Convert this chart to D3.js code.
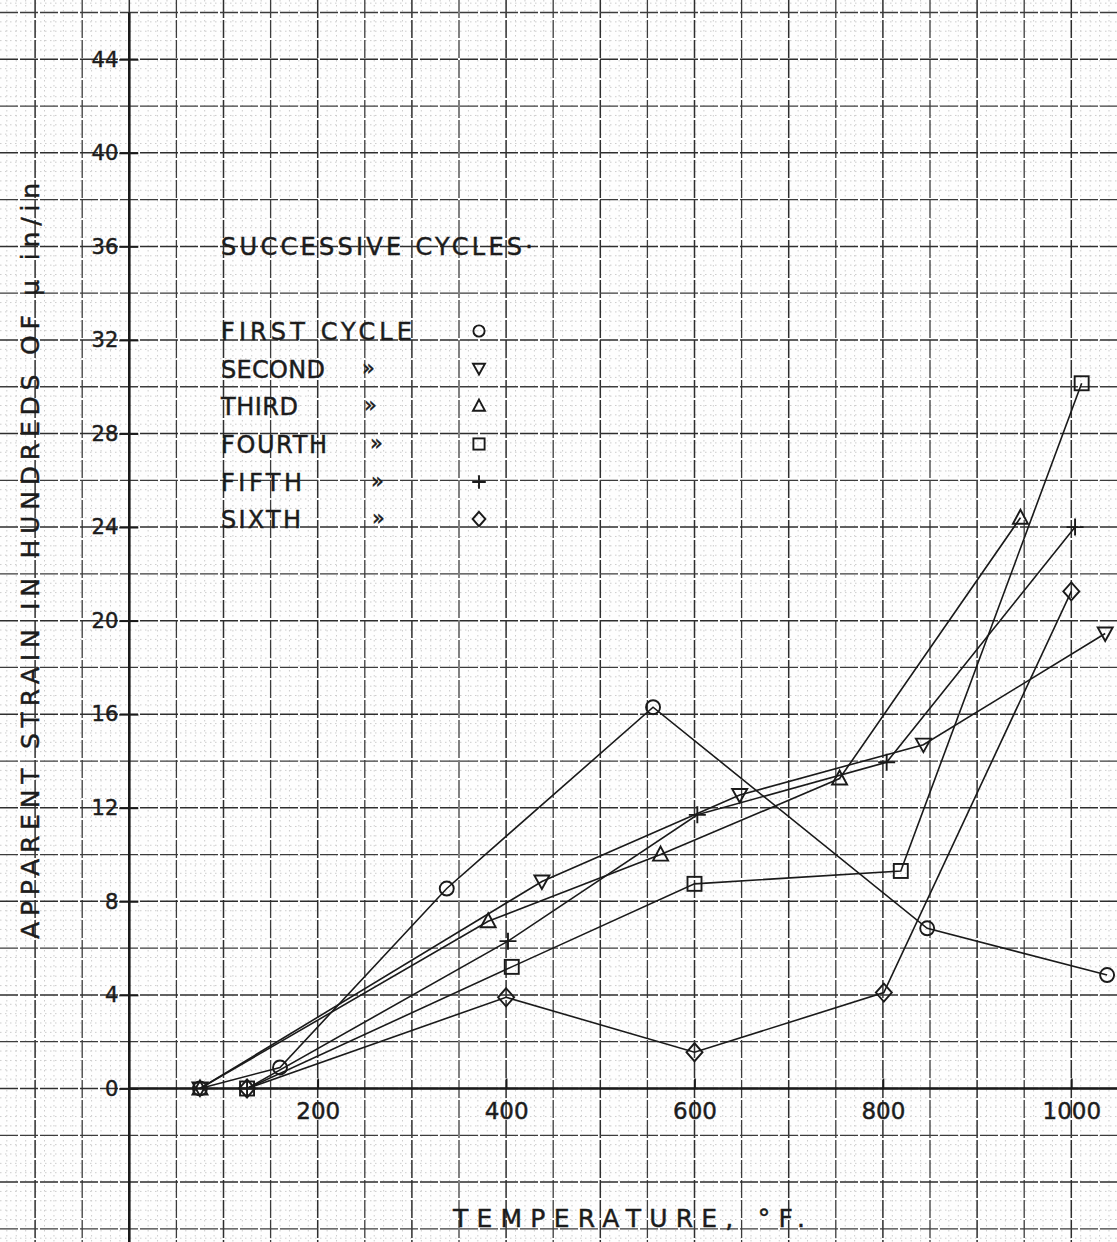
<!DOCTYPE html>
<html>
<head>
<meta charset="utf-8">
<script src="https://cdn.jsdelivr.net/npm/d3@7"></script>
<style>
  html, body { margin: 0; padding: 0; background: #fff; }
  svg { display: block; }
  text { font-family: "DejaVu Sans", sans-serif; fill: #1c1c1c; stroke: #1c1c1c; stroke-width: 0.45px; }
</style>
</head>
<body>
<svg id="chart" width="1117" height="1242"></svg>
<script>
// ---- Data: apparent strain (hundreds of micro-in/in) vs temperature (°F) ----
const cycleNames = ["FIRST CYCLE", "SECOND", "THIRD", "FOURTH", "FIFTH", "SIXTH"];
const cycleSymbols = ["circle", "triangleDown", "triangleUp", "square", "plus", "diamond"];

const tempFirst   = [75, 160, 337, 556, 847, 1038];
const strainFirst = [0, 0.9, 8.55, 16.3, 6.85, 4.85];

const tempSecond   = [75, 438, 648, 843, 1036];
const strainSecond = [0, 8.85, 12.55, 14.7, 19.45];

const tempThird   = [75, 381, 564, 754, 946];
const strainThird = [0, 7.15, 10.0, 13.25, 24.4];

const tempFourth   = [125, 406, 600, 819, 1011];
const strainFourth = [0, 5.2, 8.75, 9.3, 30.15];

const tempFifth   = [125, 402, 603, 804, 1004];
const strainFifth = [0, 6.3, 11.7, 13.95, 24.0];

const tempSixth   = [125, 400, 600, 801, 1000];
const strainSixth = [0, 3.9, 1.55, 4.1, 21.25];

const xTickValues = [200, 400, 600, 800, 1000];
const yTickValues = [0, 4, 8, 12, 16, 20, 24, 28, 32, 36, 40, 44];

const xTitle = "TEMPERATURE, \u00B0F.";
const yTitle = "APPARENT STRAIN IN HUNDREDS OF \u03BC in/in";
const legendTitle = "SUCCESSIVE  CYCLES\u00B7";
const dittoMark = "\u00BB";

// ---- Assemble series ----
const temps = [tempFirst, tempSecond, tempThird, tempFourth, tempFifth, tempSixth];
const strains = [strainFirst, strainSecond, strainThird, strainFourth, strainFifth, strainSixth];
const series = cycleNames.map((name, i) => ({
  name,
  symbol: cycleSymbols[i],
  points: temps[i].map((t, j) => [t, strains[i][j]])
}));

// ---- Layout ----
const W = 1117, H = 1242;
const svg = d3.select("#chart");
const ink = "#1a1a1a";

const x = d3.scaleLinear().domain([0, 1000]).range([129.3, 1071.3]);
const y = d3.scaleLinear().domain([0, 44]).range([1088.5, 59.3]);

svg.append("rect").attr("width", W).attr("height", H).attr("fill", "#fefefe");

// ---- Graph-paper grid ----
const grid = svg.append("g");
const xMinor = d3.range(-13, 106).map(k => k * 10);
const yMinor = d3.range(-17, 118).map(k => +(k * 0.4).toFixed(2));
const xMajor = d3.range(-3, 22).map(k => k * 50);
const yMajor = d3.range(-3, 24).map(k => k * 2);

grid.selectAll("line.vminor").data(xMinor.filter(v => v % 50 !== 0)).join("line")
  .attr("x1", d => x(d)).attr("x2", d => x(d)).attr("y1", 0).attr("y2", H)
  .attr("stroke", "#cdcdcd").attr("stroke-width", 1).attr("stroke-dasharray", "1.5,3.5");
grid.selectAll("line.hminor").data(yMinor.filter(v => Math.abs(v / 2 - Math.round(v / 2)) > 1e-6)).join("line")
  .attr("x1", 0).attr("x2", W).attr("y1", d => y(d)).attr("y2", d => y(d))
  .attr("stroke", "#cdcdcd").attr("stroke-width", 1).attr("stroke-dasharray", "1.5,3.5");

grid.selectAll("line.vmajor").data(xMajor).join("line")
  .attr("x1", d => x(d)).attr("x2", d => x(d)).attr("y1", 0).attr("y2", H)
  .attr("stroke", d => d % 100 === 0 ? "#2e2e2e" : "#3c3c3c")
  .attr("stroke-width", d => d % 100 === 0 ? 1.5 : 1.3)
  .attr("stroke-dasharray", "18,2");
grid.selectAll("line.hmajor").data(yMajor).join("line")
  .attr("x1", 0).attr("x2", W).attr("y1", d => y(d)).attr("y2", d => y(d))
  .attr("stroke", d => d % 4 === 0 ? "#2e2e2e" : "#3c3c3c")
  .attr("stroke-width", d => d % 4 === 0 ? 1.5 : 1.3)
  .attr("stroke-dasharray", "18,2");

// ---- Axes ----
const axisY = svg.append("g").attr("transform", `translate(${x(0)},0)`)
  .call(d3.axisLeft(y).tickValues(yTickValues).tickSize(10).tickPadding(1).tickFormat(d3.format("d")));
axisY.select(".domain").remove();
axisY.selectAll(".tick line").attr("x1", -10).attr("x2", 9).attr("stroke", ink).attr("stroke-width", 1.8);
axisY.selectAll(".tick text").attr("font-size", 21).attr("fill", ink)
  .attr("font-family", "DejaVu Sans, sans-serif");

const axisX = svg.append("g").attr("transform", `translate(0,${y(0)})`)
  .call(d3.axisBottom(x).tickValues(xTickValues).tickSize(0).tickPadding(21).tickFormat(d3.format("d")));
axisX.select(".domain").remove();
axisX.selectAll(".tick line").attr("y1", -10).attr("y2", 0).attr("stroke", ink).attr("stroke-width", 1.8);
axisX.selectAll(".tick text").attr("font-size", 23).attr("fill", ink)
  .attr("font-family", "DejaVu Sans, sans-serif").attr("dy", "0.4em");

// heavy axis lines
svg.append("line").attr("x1", x(0)).attr("x2", x(0)).attr("y1", y(46)).attr("y2", H)
  .attr("stroke", ink).attr("stroke-width", 2.6);
svg.append("line").attr("x1", x(0)).attr("x2", W).attr("y1", y(0)).attr("y2", y(0))
  .attr("stroke", ink).attr("stroke-width", 2.6);

// ---- Axis titles ----
svg.append("text").text(xTitle)
  .attr("x", 453).attr("y", 1227).attr("font-size", 25)
  .attr("textLength", 352).attr("lengthAdjust", "spacing");

svg.append("text").text(yTitle)
  .attr("transform", `translate(39,939) rotate(-90)`)
  .attr("font-size", 25)
  .attr("textLength", 756).attr("lengthAdjust", "spacing");

// ---- Marker shapes ----
function marker(g, type, s) {
  const k = s / 15;
  const common = sel => sel.attr("fill", "none").attr("stroke", ink).attr("stroke-width", 1.9);
  switch (type) {
    case "circle":
      common(g.append("circle").attr("r", 7 * k)); break;
    case "triangleDown":
      common(g.append("path").attr("d", `M${-7.5*k},${-6*k}L${7.5*k},${-6*k}L0,${7.5*k}Z`)); break;
    case "triangleUp":
      common(g.append("path").attr("d", `M0,${-8*k}L${7.5*k},${6*k}L${-7.5*k},${6*k}Z`)); break;
    case "square":
      common(g.append("rect").attr("x", -7 * k).attr("y", -7 * k).attr("width", 14 * k).attr("height", 14 * k)); break;
    case "plus":
      common(g.append("path").attr("d", `M${-8.5*k},0H${8.5*k}M0,${-8.5*k}V${8.5*k}`)); break;
    case "diamond":
      common(g.append("path").attr("d", `M0,${-9*k}L${8*k},0L0,${9*k}L${-8*k},0Z`)); break;
  }
}

// ---- Series lines and markers ----
const line = d3.line().x(d => x(d[0])).y(d => y(d[1]));
const plot = svg.append("g");
series.forEach(s => {
  plot.append("path").datum(s.points).attr("d", line)
    .attr("fill", "none").attr("stroke", ink).attr("stroke-width", 1.6);
});
series.forEach(s => {
  s.points.forEach(p => {
    const g = plot.append("g").attr("transform", `translate(${x(p[0])},${y(p[1])})`);
    marker(g, s.symbol, 15);
  });
});

// ---- Legend ----
const legend = svg.append("g");
legend.append("text").text(legendTitle)
  .attr("x", 221).attr("y", 255).attr("font-size", 24)
  .attr("textLength", 312).attr("lengthAdjust", "spacing");

const rowY = [331, 368.5, 406, 444, 482, 519];
const nameWidths = [191, 104, 77, 106, 81, 80];
const dittoX = [0, 362, 364, 370, 371, 372];
cycleNames.forEach((name, i) => {
  legend.append("text").text(name)
    .attr("x", 221).attr("y", rowY[i] + 9).attr("font-size", 24)
    .attr("textLength", nameWidths[i]).attr("lengthAdjust", "spacing");
  if (i > 0) {
    legend.append("text").text(dittoMark)
      .attr("x", dittoX[i]).attr("y", rowY[i] + 6).attr("font-size", 21);
  }
  const g = legend.append("g").attr("transform", `translate(479,${rowY[i]})`);
  marker(g, cycleSymbols[i], 12);
});
</script>
</body>
</html>
